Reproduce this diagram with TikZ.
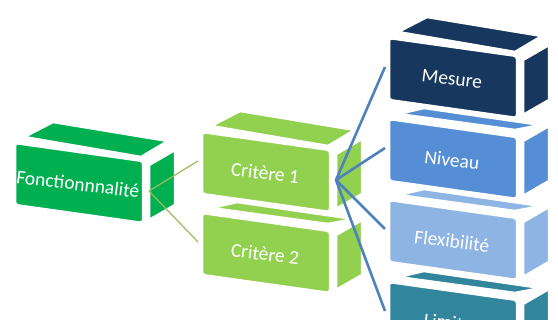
\documentclass[tikz,border=0pt]{standalone}
\usepackage{fontspec}
\setmainfont{Carlito}
\definecolor{cfonc}{HTML}{00B050}
\definecolor{ccrit}{HTML}{92D050}
\definecolor{cmes}{HTML}{17375E}
\definecolor{cniv}{HTML}{558ED5}
\definecolor{cflex}{HTML}{8EB4E3}
\definecolor{clim}{HTML}{31859C}
\definecolor{lgreen}{HTML}{9BBB59}
\definecolor{lblue}{HTML}{4F81BD}
\tikzset{
  face/.style={draw=white,line width=2.5pt,line join=round},
  frontface/.style={face,rounded corners=3pt},
  boxlabel/.style={text=white,font=\fontsize{19.5}{22}\selectfont,rotate=-7,inner sep=0pt},
  greenlink/.style={draw=lgreen,line width=1.2pt},
  bluelink/.style={draw=lblue,line width=2.6pt},
}
% #1 name, #2 x, #3 y, #4 colour, #5 text, #6 top face (full / thin)
\newcommand\cuboid[6]{%
  \begin{scope}[shift={(#2,#3)}]
    \ifnum#6=1
      \filldraw[face,fill=#4] (9,-6) -- (126,14) -- (153,-2) -- (38,-21) -- cycle;
    \else
      \filldraw[face,fill=#4] (9,-5) -- (126,11) -- (152,6) -- (35,-11) -- cycle;
    \fi
    \filldraw[face,fill=#4] (134,22) -- (160,7) -- (160,62) -- (134,77) -- cycle;
    \filldraw[frontface,fill=#4] (0,0) -- (128,18) -- (128,80) -- (0,62) -- cycle;
    \node[boxlabel] (#1) at (63,41) {#5};
    \coordinate (#1-w) at (-4,29);
    \coordinate (#1-e) at (134,48);
  \end{scope}}
\begin{document}
\begin{tikzpicture}[x=1pt,y=-1pt]
  \useasboundingbox (0,0) rectangle (558,320);
  \clip (0,0) rectangle (558,320);
  \cuboid{fonc}{15}{143}{cfonc}{Fonctionnnalité}{1}
  \cuboid{crit2}{202}{213}{ccrit}{Critère 2}{0}
  \cuboid{crit1}{202}{132}{ccrit}{Critère 1}{1}
  \cuboid{lim}{389}{282}{clim}{Limites}{0}
  \cuboid{flex}{389}{200}{cflex}{Flexibilité}{0}
  \cuboid{niv}{389}{119}{cniv}{Niveau}{0}
  \cuboid{mes}{389}{38}{cmes}{Mesure}{1}
  \draw[greenlink] (fonc-e) -- (crit1-w);
  \draw[greenlink] (fonc-e) -- (crit2-w);
  \draw[bluelink] (crit1-e) -- (mes-w);
  \draw[bluelink] (crit1-e) -- (niv-w);
  \draw[bluelink] (crit1-e) -- (flex-w);
  \draw[bluelink] (crit1-e) -- (lim-w);
\end{tikzpicture}
\end{document}
